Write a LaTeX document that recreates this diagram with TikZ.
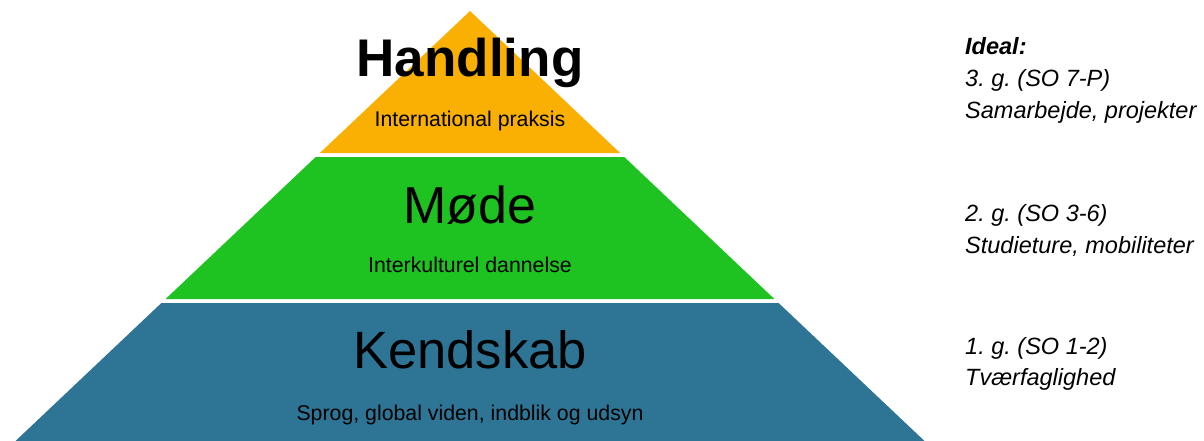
\documentclass[tikz,border=0pt]{standalone}
\usepackage{fontspec}
\setmainfont{Liberation Sans}
\frenchspacing
\definecolor{tierorange}{RGB}{249,176,2}
\definecolor{tiergreen}{RGB}{31,195,33}
\definecolor{tierblue}{RGB}{46,116,149}
\tikzset{
  title/.style={anchor=base,inner sep=0pt,font=\fontsize{52}{60}\selectfont},
  sub/.style={anchor=base,inner sep=0pt,font=\fontsize{21.3}{25}\selectfont},
  side/.style={anchor=base west,inner sep=0pt,font=\fontsize{23.5}{28}\selectfont\itshape}
}
\begin{document}
\begin{tikzpicture}[x=1pt,y=-1pt]
\useasboundingbox (0,0) rectangle (1204,441);
% tiers
\fill[tierorange] (470,11) -- (620.1,153) -- (319.9,153) -- cycle;
\fill[tiergreen] (315.7,157) -- (624.3,157) -- (774.4,299) -- (165.6,299) -- cycle;
\fill[tierblue] (161.4,303) -- (778.6,303) -- (924.5,441) -- (15.5,441) -- cycle;
% titles
\node[title,font=\fontsize{53}{60}\selectfont\bfseries] (handling) at (470,77) {Handling};
\node[sub] (praksis) at (470,127) {International praksis};
\node[title] (mode) at (470,223) {Møde};
\node[sub] (dannelse) at (470,272) {Interkulturel dannelse};
\node[title,font=\fontsize{52.5}{60}\selectfont] (kendskab) at (470,368) {Kendskab};
\node[sub] (sprog) at (470,420) {Sprog, global viden, indblik og udsyn};
% side notes
\node[side,font=\fontsize{23.5}{28}\selectfont\itshape\bfseries] (ideal) at (965,55) {Ideal:};
\node[side] (g3) at (965,87) {3. g. (SO 7-P)};
\node[side] (samarb) at (965,118) {Samarbejde, projekter};
\node[side] (g2) at (965,221) {2. g. (SO 3-6)};
\node[side] (studie) at (965,253) {Studieture, mobiliteter};
\node[side] (g1) at (965,354) {1. g. (SO 1-2)};
\node[side] (tvaer) at (965,385) {Tværfaglighed};
\end{tikzpicture}
\end{document}
